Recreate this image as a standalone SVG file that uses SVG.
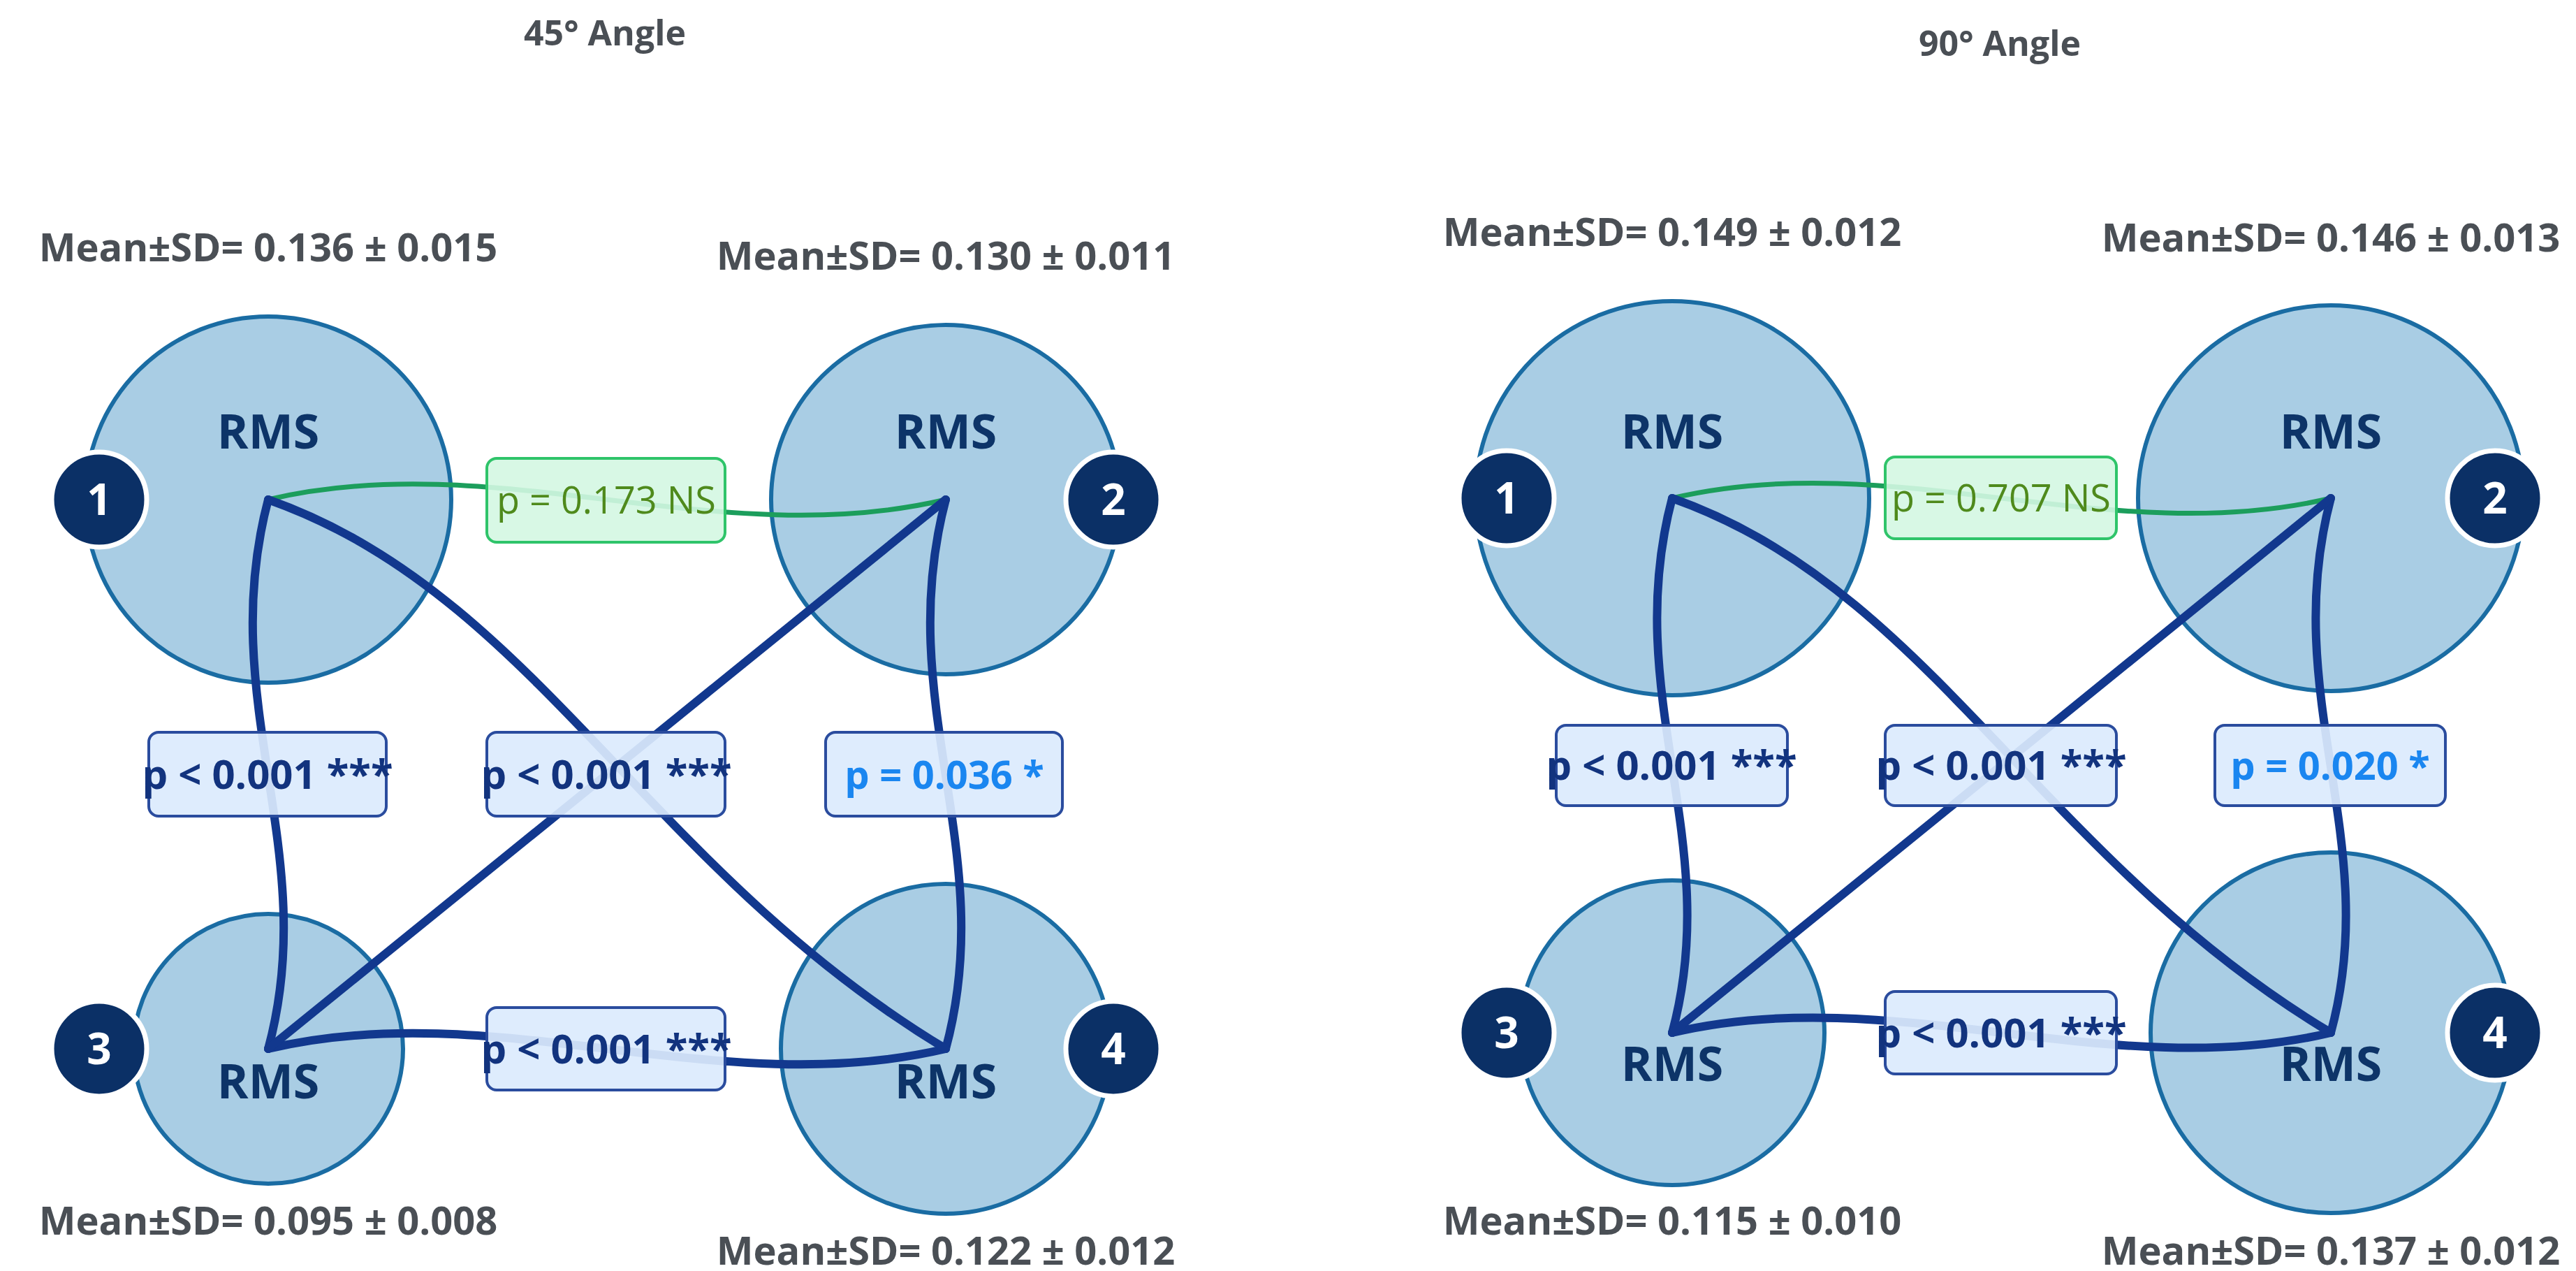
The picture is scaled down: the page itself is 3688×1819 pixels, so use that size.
<svg xmlns="http://www.w3.org/2000/svg" width="3688" height="1819" viewBox="0 0 3688 1819">
<style>
text{font-family:"Open Sans","Liberation Sans",sans-serif;text-anchor:middle}
.title{font-size:50px;font-weight:bold;fill:#4a4f55}
.mean{font-size:56px;font-weight:bold;fill:#4a4f55}
.node{fill:#a9cde4;stroke:#1a6ca3;stroke-width:6}
.rms{font-size:68px;font-weight:bold;fill:#0d3468}
.badge{fill:#0b3066;stroke:#fff;stroke-width:7}
.bnum{font-size:62px;font-weight:bold;fill:#fff}
.e{fill:none;stroke:#12388e;stroke-width:12;stroke-linecap:round}
.g{fill:none;stroke:#1c9e5c;stroke-width:7}
.box{fill:#dbeafd;fill-opacity:0.92;stroke:#2a4c9e;stroke-width:4}
.gbox{fill:#d4f7e2;fill-opacity:0.9;stroke:#2fc46a;stroke-width:4}
.pt{font-size:58px;font-weight:bold;fill:#12337e}
.pb{font-size:56px;font-weight:bold;fill:#1a86f0}
.pg{font-size:54px;fill:#4f8a1c}
</style>
<text class="title" x="866" y="65">45° Angle</text>
<text class="title" x="2863" y="80">90° Angle</text>

<g id="L1"><circle class="node" cx="384" cy="715" r="262"/></g>
<g id="L2"><circle class="node" cx="1354" cy="715" r="250"/></g>
<g id="L3"><circle class="node" cx="384" cy="1501" r="193"/></g>
<g id="L4"><circle class="node" cx="1354" cy="1501" r="236"/></g>
<g id="R1"><circle class="node" cx="2394" cy="713" r="282"/></g>
<g id="R2"><circle class="node" cx="3337" cy="713" r="276"/></g>
<g id="R3"><circle class="node" cx="2394" cy="1478" r="218"/></g>
<g id="R4"><circle class="node" cx="3337" cy="1478" r="258"/></g>

<g id="connectors">
<path class="g" d="M384,715 C709,638 1028,792 1354,715"/>
<path class="e" d="M384,1501 C709,1424 1028,1578 1354,1501"/>
<path class="e" d="M384,715 C307,1005 461,1217 384,1501"/>
<path class="e" d="M1354,715 C1277,1005 1431,1217 1354,1501"/>
<path class="e" d="M384,715 C768,851 922,1241 1354,1501"/>
<path class="e" d="M1354,715 L384,1501"/>
<path class="g" d="M2394,713 C2710,638 3021,788 3337,713"/>
<path class="e" d="M2394,1478 C2710,1403 3021,1553 3337,1478"/>
<path class="e" d="M2394,713 C2319,995 2469,1203 2394,1478"/>
<path class="e" d="M3337,713 C3262,995 3412,1203 3337,1478"/>
<path class="e" d="M2394,713 C2767,845 2917,1226 3337,1478"/>
<path class="e" d="M3337,713 L2394,1478"/>
</g>

<g id="L1t"><text class="rms" x="384" y="642">RMS</text><circle class="badge" cx="142" cy="715" r="68"/><text class="bnum" x="142" y="737">1</text><text class="mean" x="384" y="374">Mean±SD= 0.136 ± 0.015</text></g>
<g id="L2t"><text class="rms" x="1354" y="642">RMS</text><circle class="badge" cx="1594" cy="715" r="68"/><text class="bnum" x="1594" y="737">2</text><text class="mean" x="1354" y="386">Mean±SD= 0.130 ± 0.011</text></g>
<g id="L3t"><text class="rms" x="384" y="1572">RMS</text><circle class="badge" cx="142" cy="1501" r="68"/><text class="bnum" x="142" y="1523">3</text><text class="mean" x="384" y="1767">Mean±SD= 0.095 ± 0.008</text></g>
<g id="L4t"><text class="rms" x="1354" y="1572">RMS</text><circle class="badge" cx="1594" cy="1501" r="68"/><text class="bnum" x="1594" y="1523">4</text><text class="mean" x="1354" y="1810">Mean±SD= 0.122 ± 0.012</text></g>
<g id="R1t"><text class="rms" x="2394" y="642">RMS</text><circle class="badge" cx="2157" cy="713" r="68"/><text class="bnum" x="2157" y="735">1</text><text class="mean" x="2394" y="352">Mean±SD= 0.149 ± 0.012</text></g>
<g id="R2t"><text class="rms" x="3337" y="642">RMS</text><circle class="badge" cx="3572" cy="713" r="68"/><text class="bnum" x="3572" y="735">2</text><text class="mean" x="3337" y="360">Mean±SD= 0.146 ± 0.013</text></g>
<g id="R3t"><text class="rms" x="2394" y="1547">RMS</text><circle class="badge" cx="2157" cy="1478" r="68"/><text class="bnum" x="2157" y="1500">3</text><text class="mean" x="2394" y="1767">Mean±SD= 0.115 ± 0.010</text></g>
<g id="R4t"><text class="rms" x="3337" y="1547">RMS</text><circle class="badge" cx="3572" cy="1478" r="68"/><text class="bnum" x="3572" y="1500">4</text><text class="mean" x="3337" y="1810">Mean±SD= 0.137 ± 0.012</text></g>

<g id="labels">
<rect class="gbox" x="697" y="656" width="341" height="120" rx="14"/><text class="pg" x="868" y="735">p = 0.173 NS</text>
<rect class="box" x="213" y="1048" width="340" height="120" rx="14"/><text class="pt" x="383" y="1129">p &lt; 0.001 ***</text>
<rect class="box" x="697" y="1048" width="341" height="120" rx="14"/><text class="pt" x="868" y="1129">p &lt; 0.001 ***</text>
<rect class="box" x="1182" y="1048" width="339" height="120" rx="14"/><text class="pb" x="1352" y="1129">p = 0.036 *</text>
<rect class="box" x="697" y="1442" width="341" height="118" rx="14"/><text class="pt" x="868" y="1522">p &lt; 0.001 ***</text>
<rect class="gbox" x="2699" y="654" width="331" height="117" rx="14"/><text class="pg" x="2865" y="732">p = 0.707 NS</text>
<rect class="box" x="2228" y="1038" width="331" height="115" rx="14"/><text class="pt" x="2393" y="1116">p &lt; 0.001 ***</text>
<rect class="box" x="2699" y="1038" width="331" height="115" rx="14"/><text class="pt" x="2865" y="1116">p &lt; 0.001 ***</text>
<rect class="box" x="3171" y="1038" width="330" height="115" rx="14"/><text class="pb" x="3336" y="1116">p = 0.020 *</text>
<rect class="box" x="2699" y="1419" width="331" height="118" rx="14"/><text class="pt" x="2865" y="1499">p &lt; 0.001 ***</text>
</g>
</svg>
